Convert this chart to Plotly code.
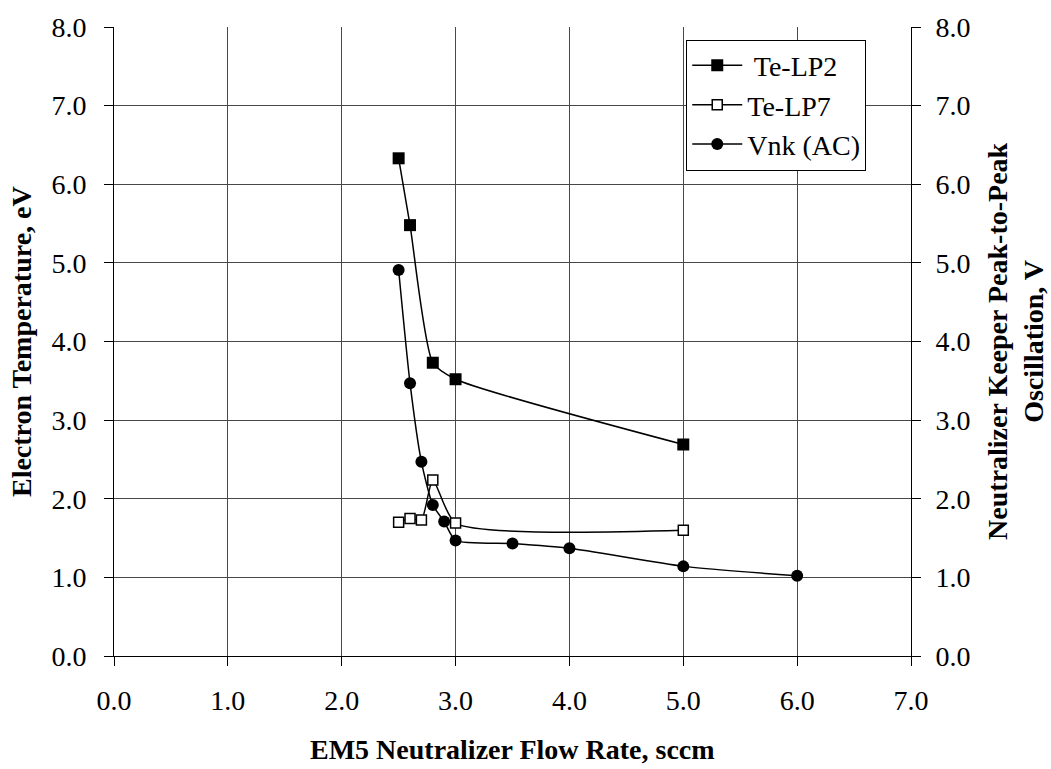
import plotly.graph_objects as go

flow_lp2 = [2.5, 2.6, 2.8, 3.0, 5.0]
te_lp2 = [6.33, 5.48, 3.73, 3.52, 2.69]

flow_lp7 = [2.5, 2.6, 2.7, 2.8, 3.0, 5.0]
te_lp7 = [1.70, 1.75, 1.73, 2.24, 1.69, 1.60]

flow_vnk = [2.5, 2.6, 2.7, 2.8, 2.9, 3.0, 3.5, 4.0, 5.0, 6.0]
vnk_ac = [4.91, 3.47, 2.47, 1.92, 1.71, 1.47, 1.43, 1.37, 1.14, 1.02]

ticks = [0, 1, 2, 3, 4, 5, 6, 7, 8]

FONT = "Liberation Serif"
FS = 28

fig = go.Figure()
line = dict(color="black", width=1.5, shape="spline", smoothing=0.6)
fig.add_trace(go.Scatter(x=flow_lp2, y=te_lp2, name=" Te-LP2", mode="lines+markers",
                         line=line, marker=dict(symbol="square", size=12, color="black")))
fig.add_trace(go.Scatter(x=flow_lp7, y=te_lp7, name="Te-LP7", mode="lines+markers",
                         line=line, marker=dict(symbol="square", size=10, color="white",
                                                line=dict(color="black", width=1.5))))
fig.add_trace(go.Scatter(x=flow_vnk, y=vnk_ac, name="Vnk (AC)", mode="lines+markers", yaxis="y2",
                         line=line, marker=dict(symbol="circle", size=12, color="black")))

axcommon = dict(showline=True, linecolor="black", linewidth=1, ticks="outside", ticklen=9,
                tickcolor="black", tickformat=".1f", zeroline=False,
                tickfont=dict(family=FONT, size=FS, color="black"),
                gridcolor="#484848", gridwidth=1)

fig.update_layout(
    width=1051, height=769,
    margin=dict(l=114, r=140, t=16, b=113),
    paper_bgcolor="white", plot_bgcolor="white",
    font=dict(family=FONT, size=FS, color="black"),
    xaxis=dict(range=[0, 7], tickvals=ticks[:8], showgrid=True, mirror=False,
               ticklabelstandoff=10, **axcommon),
    yaxis=dict(range=[0, 8], tickvals=ticks, showgrid=True, ticklabelstandoff=12, **axcommon),
    yaxis2=dict(range=[0, 8], tickvals=ticks, overlaying="y", side="right", showgrid=False,
                ticklabelstandoff=9, **axcommon),
    legend=dict(x=0.718, y=0.98, xanchor="left", yanchor="top", bgcolor="white",
                bordercolor="black", borderwidth=1, font=dict(family=FONT, size=FS),
                tracegroupgap=0, itemwidth=50),
    showlegend=True,
)

fig.add_annotation(text="<b>EM5 Neutralizer Flow Rate, sccm</b>", xref="paper", yref="paper",
                   x=0.5, y=-0.148, xanchor="center", yanchor="middle", showarrow=False,
                   font=dict(family=FONT, size=FS, color="black"))
fig.add_annotation(text="<b>Electron Temperature, eV</b>", xref="paper", yref="paper",
                   x=-0.116, y=0.5, xanchor="center", yanchor="middle", textangle=-90,
                   showarrow=False, font=dict(family=FONT, size=FS, color="black"))
fig.add_annotation(text="<b>Neutralizer Keeper Peak-to-Peak<br>Oscillation, V</b>", xref="paper",
                   yref="paper", x=1.131, y=0.5, xanchor="center", yanchor="middle",
                   textangle=-90, showarrow=False,
                   font=dict(family=FONT, size=FS, color="black"))

fig.write_html("out.html")
